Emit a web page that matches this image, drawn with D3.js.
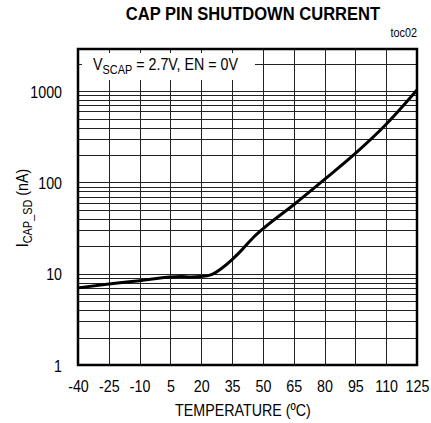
<!DOCTYPE html>
<html>
<head>
<meta charset="utf-8">
<script src="https://cdn.jsdelivr.net/npm/d3@7"></script>
<style>
  body { margin: 0; background: #fff; }
  text { font-family: "Liberation Sans Narrow", "Arial Narrow", "Liberation Sans", Arial, sans-serif; fill: #000; }
</style>
</head>
<body>
<div id="chart"></div>
<script>
// temperature (C) vs shutdown current (nA)
const temps    = [-40, -25, -10, 5, 10, 15, 20, 25, 30, 35, 40, 45, 50, 65, 80, 95, 110, 125];
const currents = [7.0, 7.7, 8.4, 9.2, 9.3, 9.2, 9.3, 9.8, 11.5, 14.3, 18.5, 24.5, 31, 57, 108, 208, 434, 1030];
const xTicks = [-40, -25, -10, 5, 20, 35, 50, 65, 80, 95, 110, 125];
const yTicks = [1, 10, 100, 1000];

const config = { width: 431, height: 423, left: 78, right: 14, top: 49, bottom: 58 };
const narrow = 0.84; // squeeze the sans font to look like Arial Narrow

const svg = d3.select("#chart").append("svg")
    .attr("width", config.width)
    .attr("height", config.height);

const x = d3.scaleLinear()
    .domain([-40, 125])
    .range([config.left, config.width - config.right]);

const y = d3.scaleLog()
    .domain([1, 2900])
    .range([config.height - config.bottom, config.top]);

// minor log grid values (1..9 per decade)
let yGrid = [];
for (let d = 1; d <= 1000; d *= 10) {
  for (let k = 1; k <= 9; k++) {
    if (d * k <= 2000) yGrid.push(d * k);
  }
}

const grid = svg.append("g");
grid.selectAll("line.h")
  .data(yGrid)
  .enter().append("line")
    .attr("x1", x.range()[0]).attr("x2", x.range()[1])
    .attr("y1", d => Math.round(y(d)) + 0.5)
    .attr("y2", d => Math.round(y(d)) + 0.5)
    .attr("stroke", "#222")
    .attr("stroke-width", 1);

grid.selectAll("line.v")
  .data(xTicks.slice(1, -1))
  .enter().append("line")
    .attr("y1", y.range()[0]).attr("y2", y.range()[1])
    .attr("x1", d => Math.round(x(d)) + 0.5)
    .attr("x2", d => Math.round(x(d)) + 0.5)
    .attr("stroke", "#222")
    .attr("stroke-width", 1);

// annotation box covering the grid
svg.append("rect")
    .attr("x", 82).attr("y", 53)
    .attr("width", 173).attr("height", 27)
    .attr("fill", "#fff");

const note = svg.append("text")
    .attr("transform", `translate(93,70) scale(${narrow},1)`)
    .style("font-size", "17px");
note.append("tspan").text("V");
note.append("tspan").attr("dy", 4).style("font-size", "13px").text("SCAP");
note.append("tspan").attr("dy", -4).text(" = 2.7V, EN = 0V");

// curve
const line = d3.line()
    .x((d, i) => x(temps[i]))
    .y(d => y(d))
    .curve(d3.curveMonotoneX);

svg.append("path")
    .datum(currents)
    .attr("d", line)
    .attr("fill", "none")
    .attr("stroke", "#000")
    .attr("stroke-width", 3)
    .attr("stroke-linejoin", "round");

// frame
svg.append("rect")
    .attr("x", x.range()[0]).attr("y", y.range()[1])
    .attr("width", x.range()[1] - x.range()[0])
    .attr("height", y.range()[0] - y.range()[1])
    .attr("fill", "none")
    .attr("stroke", "#000")
    .attr("stroke-width", 2.5);

// axes labels
const xAxis = svg.append("g")
    .attr("transform", `translate(0,${y.range()[0]})`)
    .call(d3.axisBottom(x).tickValues(xTicks).tickSize(0).tickFormat(d => String(d)));
xAxis.select(".domain").remove();
xAxis.selectAll("text")
    .attr("font-family", null)
    .attr("y", 27).attr("dy", null)
    .attr("transform", `scale(${narrow},1)`)
    .style("font-size", "17px");

const yAxis = svg.append("g")
    .attr("transform", `translate(${x.range()[0]},0)`)
    .call(d3.axisLeft(y).tickValues(yTicks).tickSize(0).tickFormat(d => String(d)));
yAxis.select(".domain").remove();
yAxis.selectAll("text")
    .attr("font-family", null)
    .attr("x", -16 / narrow).attr("dy", "0.36em")
    .attr("transform", `scale(${narrow},1)`)
    .style("font-size", "17px");

// titles
svg.append("text")
    .attr("transform", "translate(253,20) scale(0.92,1)")
    .attr("text-anchor", "middle")
    .style("font-size", "18px").style("font-weight", "bold")
    .text("CAP PIN SHUTDOWN CURRENT");

svg.append("text")
    .attr("transform", `translate(${x.range()[1]},37) scale(0.9,1)`)
    .attr("text-anchor", "end")
    .style("font-size", "12px")
    .text("toc02");

svg.append("text")
    .attr("transform", `translate(243,416) scale(${narrow},1)`)
    .attr("text-anchor", "middle")
    .style("font-size", "17px")
    .text("TEMPERATURE (ºC)");

const yl = svg.append("text")
    .attr("transform", `translate(28,208) rotate(-90) scale(${narrow},1)`)
    .attr("text-anchor", "middle")
    .style("font-size", "17px");
yl.append("tspan").text("I");
yl.append("tspan").attr("dy", 4).style("font-size", "13px").text("CAP_SD");
yl.append("tspan").attr("dy", -4).text(" (nA)");
</script>
</body>
</html>
